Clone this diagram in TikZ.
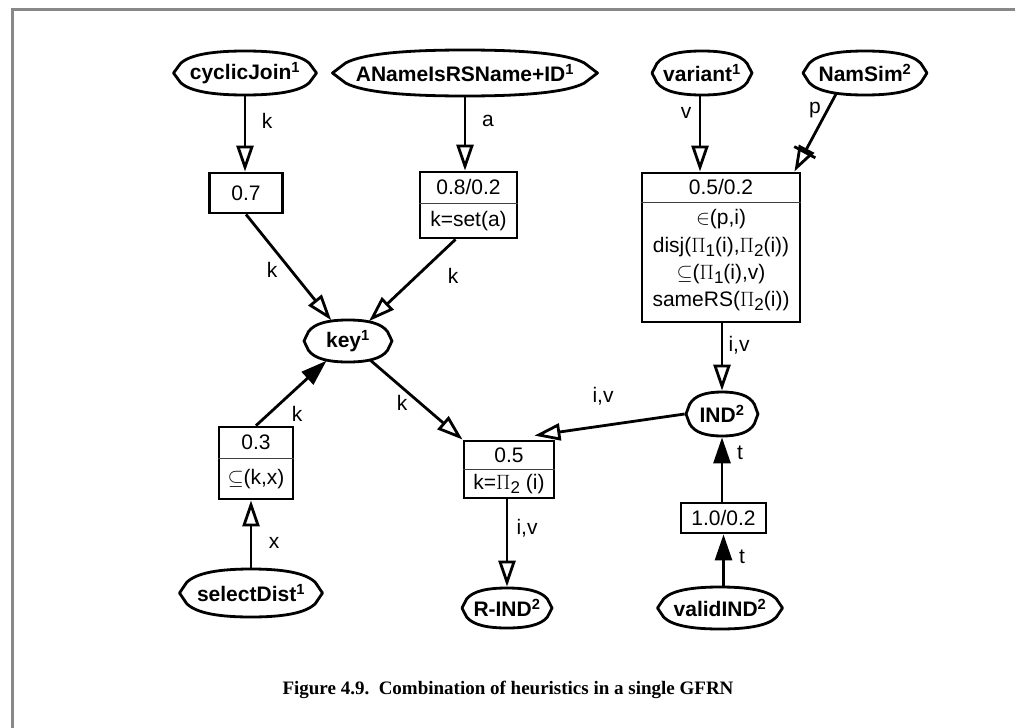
\documentclass[tikz,border=0pt]{standalone}
\usepackage{fontspec}
\setmainfont{Liberation Sans}
\newfontfamily\capfont{Liberation Serif}
\usetikzlibrary{arrows.meta,shapes.geometric,calc}
\definecolor{framegray}{RGB}{136,136,136}
% lowered index, a little smaller than the running text
\newcommand\idx[1]{\raisebox{-0.35ex}{\fontsize{17}{20}\selectfont #1}}
% outline of a proposition: an oval with slightly pointed ends, drawn round
% node #1 with half width #2 and half height #3 (in pt)
\newcommand\blob[3]{%
  \draw[line width=2.8pt, line join=round, shift={(#1.center)}, x=#2pt, y=#3pt]
    (-1,0) -- (-0.9,0.44) .. controls (-0.76,0.86) and (-0.42,1) .. (0,1)
    .. controls (0.42,1) and (0.76,0.86) .. (0.9,0.44) -- (1,0)
    -- (0.9,-0.44) .. controls (0.76,-0.86) and (0.42,-1) .. (0,-1)
    .. controls (-0.42,-1) and (-0.76,-0.86) .. (-0.9,-0.44) -- cycle;}

\begin{document}
\begin{tikzpicture}[x=1pt,y=-1pt,
  every node/.style={inner sep=0pt},
  lbl/.style={font=\fontsize{21}{25}\selectfont},
  ell/.style={ellipse, line width=2.8pt, font=\bfseries\fontsize{21}{25}\selectfont},
  box/.style={rectangle, draw, line width=2.8pt, font=\fontsize{21}{25}\selectfont},
  splitline/.style={draw, line width=0.9pt, black!75},
  wire/.style={line width=2.8pt},
  openarrow/.style={wire, -{Triangle[open, length=26pt, width=17pt]}},
  filledarrow/.style={wire, -{Triangle[length=26pt, width=17pt]}},
]
\useasboundingbox (0,0) rectangle (1015,728);

% frame
\draw[line width=3pt, framegray] (12,728) -- (12,9) -- (1015,9);

% propositions
\node[ell, minimum width=143pt, minimum height=44pt] (cj) at (245,73) {cyclicJoin\textsuperscript{1}};
\blob{cj}{71.5}{22}
\node[ell, minimum width=265pt, minimum height=46pt] (an) at (465,73) {ANameIsRSName+ID\textsuperscript{1}};
\blob{an}{132.5}{23}
\node[ell, minimum width=100pt, minimum height=44pt] (va) at (702,73) {variant\textsuperscript{1}};
\blob{va}{50}{22}
\node[ell, minimum width=124pt, minimum height=44pt] (ns) at (865,73) {NamSim\textsuperscript{2}};
\blob{ns}{62}{22}
\node[ell, minimum width=88pt, minimum height=42pt] (key) at (348,341) {key\textsuperscript{1}};
\blob{key}{44}{21}
\node[ell, minimum width=72pt, minimum height=44pt] (ind) at (722,414) {IND\textsuperscript{2}};
\blob{ind}{36}{22}
\node[ell, minimum width=143pt, minimum height=48pt] (sd) at (251,593) {selectDist\textsuperscript{1}};
\blob{sd}{71.5}{24}
\node[ell, minimum width=90pt, minimum height=40pt] (rind) at (507,608) {R-IND\textsuperscript{2}};
\blob{rind}{45}{20}
\node[ell, minimum width=125pt, minimum height=42pt] (vind) at (720,608) {validIND\textsuperscript{2}};
\blob{vind}{62.5}{21}

% rule boxes
\node[box, minimum width=73pt, minimum height=40pt] (b07) at (246,193) {0.7};
\node[box, minimum width=85pt, minimum height=30pt] (b10) at (723.5,518) {1.0/0.2};

\node[box, minimum width=97pt, minimum height=66pt] (b08) at (468.5,205) {};
\draw[splitline] (b08.west |- 0,203) -- (b08.east |- 0,203);
\node[lbl] (b08a) at (468.5,187) {0.8/0.2};
\node[lbl] (b08b) at (468.5,221) {k=set(a)};

\node[box, minimum width=158pt, minimum height=149pt] (b3) at (721,247.5) {};
\draw[splitline] (b3.west |- 0,202) -- (b3.east |- 0,202);
\node[lbl] (b3a) at (721,187) {0.5/0.2};
\node[lbl] (b3b) at (721,219) {$\in$(p,i)};
\node[lbl] (b3c) at (721,247) {disj($\Pi$\idx{1}(i),$\Pi$\idx{2}(i))};
\node[lbl] (b3d) at (721,274) {$\subseteq$($\Pi$\idx{1}(i),v)};
\node[lbl] (b3e) at (721,301) {sameRS($\Pi$\idx{2}(i))};

\node[box, minimum width=90pt, minimum height=57pt] (b05) at (509,469.5) {};
\draw[splitline] (b05.west |- 0,469) -- (b05.east |- 0,469);
\node[lbl] (b05a) at (509,455) {0.5};
\node[lbl] (b05b) at (509,484) {k=$\Pi$\idx{2} (i)};

\node[box, minimum width=74pt, minimum height=72pt] (b03) at (256,463) {};
\draw[splitline] (b03.west |- 0,458) -- (b03.east |- 0,458);
\node[lbl] (b03a) at (256,442) {0.3};
\node[lbl] (b03b) at (256,479) {$\subseteq$(k,x)};

% connectors
\draw[openarrow] (cj) -- (cj |- b07.north) node[lbl] at (267,121) {k};
\draw[openarrow] (an) -- (an |- b08.north) node[lbl] at (488,121) {a};
\draw[openarrow] (va.south -| 700,0) -- (b3.north -| 700,0) node[lbl] at (686,113) {v};
\coordinate (b3p) at ([xshift=-7pt]b3.north east);
\draw[openarrow] (ns.-144) -- (b3p) node[lbl] at (815,110) {p};
\draw[wire] ($($(b3p)!22pt!(ns.-144)$)!12pt!90:(b3p)$) -- ($($(b3p)!22pt!(ns.-144)$)!12pt!-90:(b3p)$);

\draw[openarrow] (b07.south) -- (key) node[lbl] at (272,270) {k};
\draw[openarrow] (b08.south) ++(-13,0) -- (key) node[lbl] at (453,276) {k};
\draw[openarrow] (b3.south -| ind) -- (ind) node[lbl] at (739,345) {i,v};
\draw[openarrow] (ind.west) -- ([xshift=-21pt,yshift=4pt]b05.north east) node[lbl] at (603,396) {i,v};
\draw[openarrow] (key) -- (b05.north west) node[lbl] at (402,403) {k};
\draw[filledarrow] (b03.north) -- (key) node[lbl] at (297,414) {k};
\draw[openarrow] (sd) -- (sd |- b03.south) node[lbl] at (274,543) {x};
\draw[openarrow] (b05.south -| rind) -- (rind) node[lbl] at (527,528) {i,v};
\draw[filledarrow] (b10.north -| ind) -- (ind) node[lbl] at (740,453) {t};
\draw[filledarrow] (vind.north -| b10) -- (b10) node[lbl] at (742,557) {t};

% caption
\node[font=\capfont\bfseries\fontsize{19}{23}\selectfont] (cap) at (508,690)
  {Figure 4.9.\ \ Combination of heuristics in a single GFRN};
\end{tikzpicture}
\end{document}
